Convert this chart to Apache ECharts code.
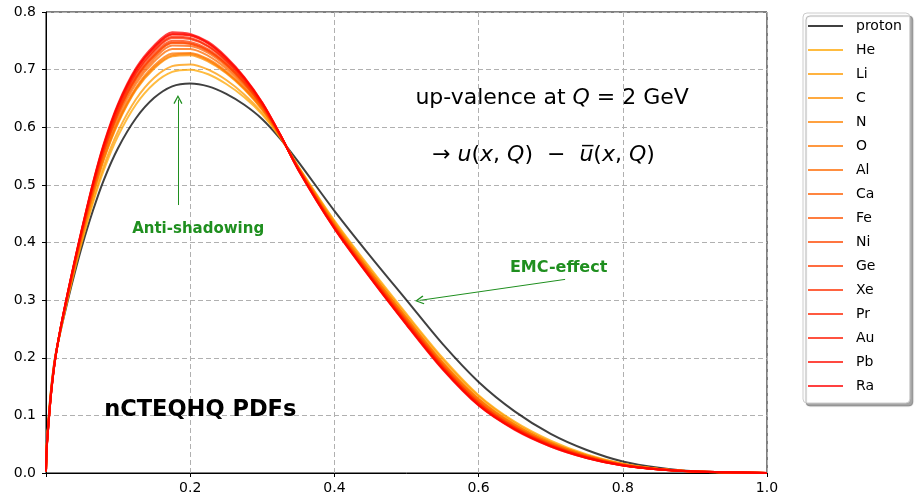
<!DOCTYPE html>
<html>
<head>
<meta charset="utf-8">
<script src="https://cdn.jsdelivr.net/npm/echarts@6/dist/echarts.min.js"></script>
<style>
  html, body { margin: 0; padding: 0; background: #fff; }
  #chart { width: 919px; height: 499px; }
</style>
</head>
<body>
<div id="chart"></div>
<script>
// x grid (momentum fraction) shared by all curves
const xs = [0.00001, 0.001, 0.003, 0.007, 0.0125, 0.02, 0.03, 0.04, 0.05, 0.065, 0.08, 0.1, 0.125, 0.15, 0.175,
  0.2, 0.225, 0.25, 0.275, 0.3, 0.325, 0.35, 0.4, 0.45, 0.5, 0.55, 0.6, 0.65, 0.7, 0.75, 0.8, 0.85, 0.9, 1.0]

// x*(u - ubar)
const proton = [0.004, 0.050, 0.086, 0.145, 0.200, 0.245, 0.298, 0.348, 0.394, 0.455, 0.508, 0.564, 0.616, 0.651, 0.671, 0.676, 0.671, 0.658, 0.639, 0.614, 0.580, 0.540, 0.455, 0.376, 0.300, 0.224, 0.158, 0.107, 0.068, 0.040, 0.020, 0.009, 0.003, 0]
const He = [0.004, 0.048, 0.084, 0.143, 0.199, 0.246, 0.302, 0.354, 0.402, 0.468, 0.525, 0.585, 0.640, 0.676, 0.696, 0.700, 0.692, 0.675, 0.652, 0.622, 0.582, 0.532, 0.438, 0.355, 0.276, 0.200, 0.135, 0.089, 0.056, 0.032, 0.016, 0.007, 0.0027, 0]
const Li = [0.004, 0.047, 0.083, 0.142, 0.198, 0.247, 0.303, 0.356, 0.406, 0.473, 0.532, 0.593, 0.649, 0.686, 0.706, 0.709, 0.700, 0.682, 0.657, 0.625, 0.583, 0.531, 0.436, 0.352, 0.273, 0.197, 0.133, 0.087, 0.054, 0.031, 0.016, 0.007, 0.0026, 0]
const C = [0.003, 0.046, 0.081, 0.141, 0.197, 0.248, 0.306, 0.360, 0.411, 0.482, 0.543, 0.607, 0.665, 0.702, 0.723, 0.725, 0.714, 0.694, 0.666, 0.630, 0.584, 0.530, 0.433, 0.349, 0.269, 0.192, 0.129, 0.084, 0.052, 0.030, 0.015, 0.0068, 0.0026, 0]
const N = [0.003, 0.045, 0.081, 0.140, 0.197, 0.248, 0.306, 0.361, 0.412, 0.483, 0.545, 0.609, 0.667, 0.704, 0.725, 0.727, 0.716, 0.695, 0.667, 0.631, 0.584, 0.530, 0.432, 0.348, 0.269, 0.192, 0.128, 0.084, 0.052, 0.030, 0.015, 0.0068, 0.0026, 0]
const O = [0.003, 0.045, 0.081, 0.140, 0.197, 0.248, 0.307, 0.361, 0.413, 0.484, 0.546, 0.611, 0.669, 0.707, 0.728, 0.729, 0.718, 0.697, 0.668, 0.632, 0.584, 0.530, 0.432, 0.348, 0.268, 0.191, 0.128, 0.083, 0.052, 0.030, 0.015, 0.0068, 0.0026, 0]
const Al = [0.003, 0.044, 0.080, 0.140, 0.197, 0.249, 0.308, 0.363, 0.415, 0.488, 0.551, 0.617, 0.676, 0.714, 0.736, 0.736, 0.724, 0.702, 0.672, 0.634, 0.585, 0.529, 0.430, 0.346, 0.266, 0.189, 0.125, 0.081, 0.050, 0.029, 0.014, 0.0066, 0.0025, 0]
const Ca = [0.003, 0.044, 0.079, 0.139, 0.196, 0.249, 0.309, 0.365, 0.417, 0.491, 0.555, 0.622, 0.681, 0.719, 0.742, 0.741, 0.729, 0.706, 0.675, 0.636, 0.585, 0.528, 0.429, 0.344, 0.264, 0.187, 0.124, 0.080, 0.050, 0.028, 0.014, 0.0065, 0.0025, 0]
const Fe = [0.003, 0.044, 0.079, 0.139, 0.196, 0.249, 0.309, 0.365, 0.419, 0.493, 0.558, 0.625, 0.685, 0.723, 0.746, 0.745, 0.732, 0.709, 0.677, 0.637, 0.586, 0.528, 0.428, 0.343, 0.263, 0.186, 0.122, 0.079, 0.049, 0.028, 0.014, 0.0064, 0.0025, 0]
const Ni = [0.003, 0.044, 0.079, 0.139, 0.196, 0.249, 0.309, 0.366, 0.419, 0.493, 0.558, 0.626, 0.686, 0.724, 0.747, 0.745, 0.733, 0.709, 0.677, 0.637, 0.586, 0.528, 0.428, 0.343, 0.263, 0.186, 0.122, 0.079, 0.049, 0.028, 0.014, 0.0064, 0.0025, 0]
const Ge = [0.003, 0.043, 0.079, 0.138, 0.196, 0.249, 0.310, 0.366, 0.420, 0.495, 0.560, 0.628, 0.688, 0.727, 0.750, 0.748, 0.735, 0.711, 0.679, 0.638, 0.586, 0.528, 0.427, 0.342, 0.262, 0.185, 0.122, 0.079, 0.048, 0.028, 0.014, 0.0063, 0.0025, 0]
const Xe = [0.003, 0.043, 0.078, 0.138, 0.196, 0.250, 0.311, 0.368, 0.422, 0.498, 0.564, 0.633, 0.693, 0.732, 0.755, 0.753, 0.740, 0.715, 0.682, 0.640, 0.586, 0.527, 0.426, 0.341, 0.260, 0.183, 0.120, 0.077, 0.048, 0.027, 0.0135, 0.0062, 0.0024, 0]
const Pr = [0.003, 0.043, 0.078, 0.138, 0.196, 0.250, 0.311, 0.368, 0.422, 0.499, 0.565, 0.634, 0.695, 0.734, 0.757, 0.755, 0.741, 0.716, 0.683, 0.640, 0.586, 0.527, 0.426, 0.340, 0.260, 0.183, 0.119, 0.077, 0.047, 0.027, 0.0134, 0.0062, 0.0024, 0]
const Au = [0.003, 0.042, 0.077, 0.137, 0.195, 0.250, 0.311, 0.369, 0.424, 0.501, 0.568, 0.638, 0.700, 0.738, 0.761, 0.759, 0.745, 0.719, 0.685, 0.642, 0.587, 0.526, 0.425, 0.339, 0.258, 0.181, 0.118, 0.076, 0.047, 0.026, 0.013, 0.006, 0.0024, 0]
const Pb = [0.003, 0.042, 0.077, 0.137, 0.195, 0.250, 0.312, 0.369, 0.424, 0.502, 0.569, 0.639, 0.700, 0.739, 0.762, 0.760, 0.746, 0.720, 0.686, 0.642, 0.587, 0.526, 0.425, 0.339, 0.258, 0.181, 0.118, 0.076, 0.046, 0.026, 0.013, 0.006, 0.0024, 0]
const Ra = [0.003, 0.042, 0.077, 0.137, 0.195, 0.250, 0.312, 0.370, 0.425, 0.503, 0.571, 0.641, 0.703, 0.742, 0.765, 0.762, 0.748, 0.722, 0.687, 0.643, 0.587, 0.526, 0.424, 0.338, 0.257, 0.180, 0.117, 0.075, 0.046, 0.026, 0.013, 0.006, 0.0024, 0]

const nucleiNames = ["He", "Li", "C", "N", "O", "Al", "Ca", "Fe", "Ni", "Ge", "Xe", "Pr", "Au", "Pb", "Ra"]
const nucleiValues = [He, Li, C, N, O, Al, Ca, Fe, Ni, Ge, Xe, Pr, Au, Pb, Ra]

const font = "DejaVu Sans"
const green = "#1f8f1f"

function pairs(ys) {
  return xs.map((x, i) => [x, ys[i]])
}

// orange -> red, like the colormap in the original
function nucleusColor(i) {
  let g = Math.round(165 * (1 - i / (nucleiNames.length - 1)))
  return "rgba(255," + g + ",0,0.75)"
}

// open arrow head, tip at the top
const arrowHead = "path://M5,0L10,9L8.8,10L5,2.6L1.2,10L0,9Z"

let myChart = echarts.init(document.getElementById("chart"))

let series = [
  {
    name: "proton",
    type: "line",
    data: pairs(proton),
    symbol: "none",
    smooth: 0.3,
    lineStyle: { color: "rgba(0,0,0,0.75)", width: 2 },
    itemStyle: { color: "rgba(0,0,0,0.75)" },
    z: 3,
    markLine: {
      silent: true,
      symbol: ["none", arrowHead],
      symbolSize: [9, 9],
      label: { show: false },
      lineStyle: { color: green, width: 1, type: "solid" },
      data: [
        [{ coord: [0.183, 0.465] }, { coord: [0.183, 0.648] }],
        [{ coord: [0.72, 0.336] }, { coord: [0.518, 0.2995] }],
      ],
    },
  },
]
nucleiNames.forEach((name, i) => {
  series.push({
    name: name,
    type: "line",
    data: pairs(nucleiValues[i]),
    symbol: "none",
    smooth: 0.3,
    lineStyle: { color: nucleusColor(i), width: 2 },
    itemStyle: { color: nucleusColor(i) },
    z: 3,
  })
})

myChart.setOption({
  animation: false,
  textStyle: { fontFamily: font },
  grid: {
    left: 46,
    right: 152,
    top: 12,
    bottom: 26,
    show: true,
    borderColor: "#000",
    borderWidth: 1,
  },
  legend: {
    orient: "vertical",
    left: 803,
    top: 13,
    data: ["proton"].concat(nucleiNames),
    icon: "rect",
    itemWidth: 35,
    itemHeight: 2,
    itemGap: 10,
    padding: [6, 8, 10, 5],
    backgroundColor: "#fff",
    borderColor: "#cccccc",
    borderWidth: 1,
    borderRadius: 4,
    shadowColor: "rgba(0,0,0,0.35)",
    shadowBlur: 1,
    shadowOffsetX: 3,
    shadowOffsetY: 3,
    textStyle: { fontFamily: font, fontSize: 14, lineHeight: 14, color: "#000", padding: [0, 0, 0, 8] },
  },
  xAxis: {
    type: "value",
    min: 0,
    max: 1,
    interval: 0.2,
    axisLine: { lineStyle: { color: "#000", width: 1 } },
    axisTick: { show: true, length: 4, lineStyle: { color: "#000" } },
    axisLabel: {
      color: "#000",
      fontSize: 14,
      fontFamily: font,
      margin: 8,
      formatter: (v) => (v === 0 ? "" : v.toFixed(1)),
    },
    splitLine: { lineStyle: { color: "#b0b0b0", type: [5, 3], width: 1 } },
  },
  yAxis: {
    type: "value",
    min: 0,
    max: 0.8,
    interval: 0.1,
    axisLine: { show: true, lineStyle: { color: "#000", width: 1 } },
    axisTick: { show: true, length: 4, lineStyle: { color: "#000" } },
    axisLabel: {
      color: "#000",
      fontSize: 14,
      fontFamily: font,
      margin: 10,
      formatter: (v) => v.toFixed(1),
    },
    splitLine: { lineStyle: { color: "#b0b0b0", type: [5, 3], width: 1 } },
  },
  series: series,
})

// text annotations placed in data coordinates
function at(x, y) {
  return myChart.convertToPixel({ gridIndex: 0 }, [x, y])
}
let p1 = at(0.702, 0.651)
let p2 = at(0.69, 0.552)
let p3 = at(0.211, 0.4235)
let p4 = at(0.711, 0.356)
let p5 = at(0.214, 0.109)

let rich = {
  n: { fontSize: 22, fontFamily: font, fill: "#000" },
  i: { fontSize: 22, fontFamily: font, fontStyle: "italic", fill: "#000" },
}

myChart.setOption({
  graphic: [
    {
      type: "text",
      z: 10,
      style: {
        x: p1[0], y: p1[1], align: "center", verticalAlign: "middle",
        text: "{n|up-valence at }{i|Q}{n| = 2 GeV}",
        rich: rich,
      },
    },
    {
      type: "text",
      z: 10,
      style: {
        x: p2[0], y: p2[1], align: "center", verticalAlign: "middle",
        text: "{n|→ }{i|u}{n|(}{i|x}{n|, }{i|Q}{n|)  −  }{i|u\u0305}{n|(}{i|x}{n|, }{i|Q}{n|)}",
        rich: rich,
      },
    },
    {
      type: "text",
      z: 10,
      style: {
        x: p3[0], y: p3[1], align: "center", verticalAlign: "middle",
        text: "Anti-shadowing",
        fontFamily: font, fontSize: 15, fontWeight: "bold", fill: green,
      },
    },
    {
      type: "text",
      z: 10,
      style: {
        x: p4[0], y: p4[1], align: "center", verticalAlign: "middle",
        text: "EMC-effect",
        fontFamily: font, fontSize: 16, fontWeight: "bold", fill: green,
      },
    },
    {
      type: "text",
      z: 10,
      style: {
        x: p5[0], y: p5[1], align: "center", verticalAlign: "middle",
        text: "nCTEQHQ PDFs",
        fontFamily: font, fontSize: 22.5, fontWeight: "bold", fill: "#000",
      },
    },
  ],
})
</script>
</body>
</html>
